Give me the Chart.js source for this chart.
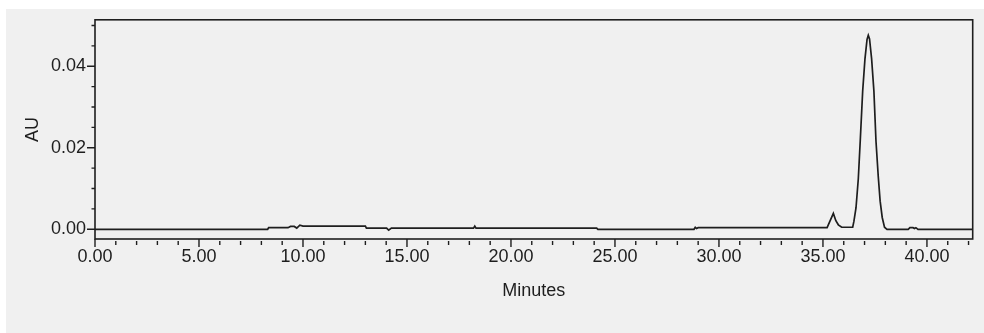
<!DOCTYPE html>
<html>
<head>
<meta charset="utf-8">
<script src="https://cdn.jsdelivr.net/npm/chart.js@4.4.1/dist/chart.umd.min.js"></script>
<style>
  html, body { margin: 0; padding: 0; background: #ffffff; }
  #wrap { width: 984px; height: 333px; }
</style>
</head>
<body>
<div id="wrap"><canvas id="chrom" width="984" height="333"></canvas></div>
<script>
// retention time (min) and detector response (AU)
const timeMin = [
    0.00, 8.30, 8.35, 9.28, 9.40, 9.58, 9.70, 9.85, 10.00, 13.00,
    13.05, 14.02, 14.12, 14.25, 18.20, 18.26, 18.32, 24.12, 24.18, 28.80,
    28.86, 28.92, 29.00, 35.20, 35.50, 35.62, 35.74, 35.90, 36.43, 36.49,
    36.59, 36.70, 36.80, 36.91, 37.02, 37.12, 37.18, 37.24, 37.34, 37.45,
    37.55, 37.66, 37.75, 37.85, 37.96, 38.08, 39.10, 39.18, 39.33, 39.40,
    39.47, 39.57, 42.20
];
const absorbance = [
    0.0000, 0.0000, 0.0004, 0.0004, 0.0007, 0.0007, 0.0003, 0.0010, 0.0008, 0.0008,
    0.0003, 0.0003, -0.0002, 0.0003, 0.0003, 0.0008, 0.0003, 0.0003, 0.0000, 0.0000,
    0.0005, 0.0002, 0.0004, 0.0004, 0.0039, 0.0021, 0.0011, 0.0005, 0.0005, 0.0020,
    0.0053, 0.0124, 0.0224, 0.0339, 0.0418, 0.0466, 0.0476, 0.0467, 0.0418, 0.0339,
    0.0216, 0.0129, 0.0069, 0.0029, 0.0005, 0.0000, 0.0000, 0.0004, 0.0004, 0.0002,
    0.0004, 0.0000, 0.0000
];

const xRange = [0, 42.2];
const yRange = [-0.00238, 0.0514];
const xMinorStep = 1, xLabelEvery = 5;
const yMinorStep = 0.005, yLabelEvery = 0.02;

const ink = '#1e1e1e';
const fontFamily = '"Liberation Sans", Arial, sans-serif';

const points = timeMin.map((t, i) => ({ x: t, y: absorbance[i] }));

function isMultiple(v, step) {
    return Math.abs(v / step - Math.round(v / step)) < 1e-6;
}

// grey panel with a thin white margin on the top and left
const panel = {
    id: 'panel',
    beforeDraw(chart) {
        const { ctx, width, height } = chart;
        ctx.save();
        ctx.fillStyle = '#ffffff';
        ctx.fillRect(0, 0, width, height);
        ctx.fillStyle = '#f0f0f0';
        ctx.fillRect(6, 9, width - 6, height - 9);
        ctx.restore();
    }
};

// frame around the plot plus outward tick marks
const frame = {
    id: 'frame',
    afterDraw(chart) {
        const { ctx, chartArea: a, scales: { x, y } } = chart;
        ctx.save();
        ctx.strokeStyle = ink;
        ctx.lineWidth = 1.6;
        ctx.strokeRect(a.left, a.top, a.right - a.left, a.bottom - a.top);

        ctx.lineWidth = 1.4;
        ctx.beginPath();
        x.ticks.forEach(t => {
            if (!isMultiple(t.value, xMinorStep)) return;
            const px = x.getPixelForValue(t.value);
            const major = isMultiple(t.value, xLabelEvery);
            ctx.moveTo(px, a.bottom + (major ? 0 : 2));
            ctx.lineTo(px, a.bottom + (major ? 8 : 6));
        });
        y.ticks.forEach(t => {
            if (!isMultiple(t.value, yMinorStep)) return;
            const py = y.getPixelForValue(t.value);
            const major = isMultiple(t.value, yLabelEvery);
            ctx.moveTo(a.left - (major ? 8 : 3.5), py);
            ctx.lineTo(a.left, py);
        });
        ctx.stroke();
        ctx.restore();
    }
};

new Chart(document.getElementById('chrom'), {
    type: 'line',
    data: {
        datasets: [{
            data: points,
            borderColor: ink,
            borderWidth: 1.7,
            pointRadius: 0,
            tension: 0,
            fill: false
        }]
    },
    options: {
        responsive: false,
        animation: false,
        layout: { padding: { top: 13, right: 11.3, left: 0, bottom: 0 } },
        plugins: { legend: { display: false }, tooltip: { enabled: false } },
        scales: {
            x: {
                type: 'linear',
                min: xRange[0],
                max: xRange[1],
                afterFit: s => { s.height = 94; },
                grid: { display: false, drawTicks: false },
                border: { display: false },
                ticks: {
                    stepSize: xMinorStep,
                    includeBounds: false,
                    autoSkip: false,
                    maxRotation: 0,
                    padding: 7,
                    color: ink,
                    font: { family: fontFamily, size: 18 },
                    callback: v => isMultiple(v, xLabelEvery) ? v.toFixed(2) : ''
                },
                title: {
                    display: true,
                    text: 'Minutes',
                    color: ink,
                    font: { family: fontFamily, size: 18 },
                    padding: { top: 0, bottom: 31 }
                }
            },
            y: {
                min: yRange[0],
                max: yRange[1],
                afterFit: s => { s.width = 95; },
                grid: { display: false, drawTicks: false },
                border: { display: false },
                ticks: {
                    stepSize: yMinorStep,
                    includeBounds: false,
                    autoSkip: false,
                    padding: 9,
                    color: ink,
                    font: { family: fontFamily, size: 18 },
                    callback: v => isMultiple(v, yLabelEvery) ? Math.abs(v).toFixed(2) : ''
                },
                title: {
                    display: true,
                    text: 'AU',
                    color: ink,
                    font: { family: fontFamily, size: 18 },
                    padding: { top: 22.7, bottom: 0 }
                }
            }
        }
    },
    plugins: [panel, frame]
});
</script>
</body>
</html>
